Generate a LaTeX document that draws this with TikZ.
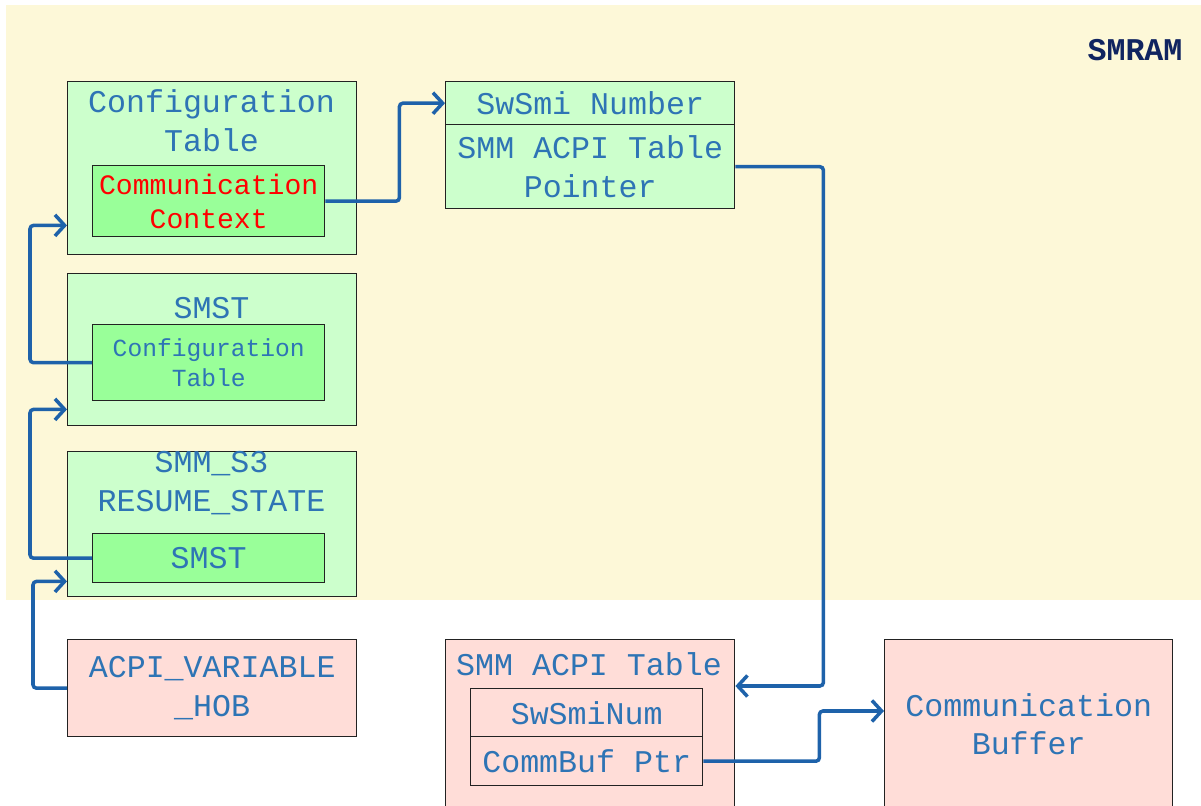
\documentclass[tikz,border=0pt]{standalone}
\usepackage{fontspec}
\usepackage{tikz}
\usetikzlibrary{arrows.meta, positioning}
\newfontfamily\cour{Liberation Mono}
\definecolor{smramyellow}{RGB}{253,248,216}
\definecolor{lightgreen}{RGB}{204,255,204}
\definecolor{midgreen}{RGB}{153,255,153}
\definecolor{lightpink}{RGB}{255,221,216}
\definecolor{textblue}{RGB}{46,116,181}
\definecolor{linkblue}{RGB}{30,98,170}
\definecolor{navy}{RGB}{16,36,96}
\definecolor{boxline}{RGB}{34,34,34}

\begin{document}
\begin{tikzpicture}[
    outerbox/.style={rectangle, draw=boxline, line width=0.8pt, fill=lightgreen,
                minimum width=5.78cm, anchor=north west, inner sep=0pt},
    innerbox/.style={rectangle, draw=boxline, line width=0.8pt, fill=midgreen,
                minimum width=4.64cm, anchor=north west, inner sep=0pt, align=center},
    pinkbox/.style={outerbox, fill=lightpink},
    label/.style={font=\cour\fontsize{18}{22}\selectfont, text=textblue, align=center},
    link/.style={-{Straight Barb[length=5.5pt,width=12pt]}, line width=2pt,
                linkblue, rounded corners=2pt}
  ]
    \useasboundingbox (0,0) rectangle (24.02,-16.12);
    \fill[smramyellow] (0.12,-0.10) rectangle (24.02,-12.00);
    \node[font=\cour\bfseries\fontsize{18}{22}\selectfont, text=navy] (smram) at (22.70,-1.00) {SMRAM};

    % left column
    \node[outerbox, minimum height=3.46cm] (cfg) at (1.34,-1.62) {};
    \node[label] (cfgtitle) at (4.23,-2.42) {Configuration\\Table};
    \node[innerbox, minimum height=1.42cm, text=red,
          font=\cour\fontsize{16}{19.5}\selectfont] (cc) at (1.84,-3.30) {Communication\\Context};

    \node[outerbox, minimum height=3.04cm] (smst) at (1.34,-5.46) {};
    \node[label] (smsttitle) at (4.23,-6.16) {SMST};
    \node[innerbox, minimum height=1.52cm, text=textblue,
          font=\cour\fontsize{14}{17}\selectfont] (smstcfg) at (1.84,-6.48) {Configuration\\Table};

    \node[outerbox, minimum height=2.90cm] (s3) at (1.34,-9.02) {};
    \node[label] (s3title) at (4.23,-9.66) {SMM\_S3\\RESUME\_STATE};
    \node[innerbox, minimum height=0.98cm, label] (s3smst) at (1.84,-10.66) {SMST};

    \node[pinkbox, minimum height=1.94cm, label] (hob) at (1.34,-12.78) {ACPI\_VARIABLE\\\_HOB};

    % middle column
    \node[outerbox, minimum height=0.86cm, label] (swsmi) at (8.90,-1.62) {SwSmi Number};
    \node[outerbox, minimum height=1.68cm, label] (ptr) at (8.90,-2.48) {SMM ACPI Table\\Pointer};

    \node[pinkbox, minimum height=3.38cm] (acpi) at (8.90,-12.78) {};
    \node[label] (acpititle) at (11.78,-13.28) {SMM ACPI Table};
    \node[innerbox, fill=lightpink, minimum height=0.96cm, label] (swnum) at (9.40,-13.76) {SwSmiNum};
    \node[innerbox, fill=lightpink, minimum height=0.98cm, label] (cbp) at (9.40,-14.72) {CommBuf Ptr};

    % right column
    \node[pinkbox, minimum width=5.76cm, minimum height=3.38cm, label] (buf) at (17.68,-12.78) {Communication\\Buffer};

    % arrow ends
    \coordinate (cfgin) at ([yshift=0.60cm]cfg.south west);
    \coordinate (smstin) at ([yshift=0.34cm]smst.south west);
    \coordinate (s3in) at ([yshift=0.32cm]s3.south west);
    \coordinate (acpiin) at ([yshift=-0.94cm]acpi.north east);
    \coordinate (bufin) at ([yshift=-1.44cm]buf.north west);

    \draw[link] (cc.east) -- ++(1.48,0) |- (swsmi.west);
    \draw[link] (ptr.east) -- ++(1.76,0) |- (acpiin);
    \draw[link] (smstcfg.west) -- ++(-1.24,0) |- (cfgin);
    \draw[link] (s3smst.west) -- ++(-1.24,0) |- (smstin);
    \draw[link] (hob.west) -- ++(-0.68,0) |- (s3in);
    \draw[link] (cbp.east) -- ++(2.32,0) |- (bufin);
  \end{tikzpicture}
\end{document}
